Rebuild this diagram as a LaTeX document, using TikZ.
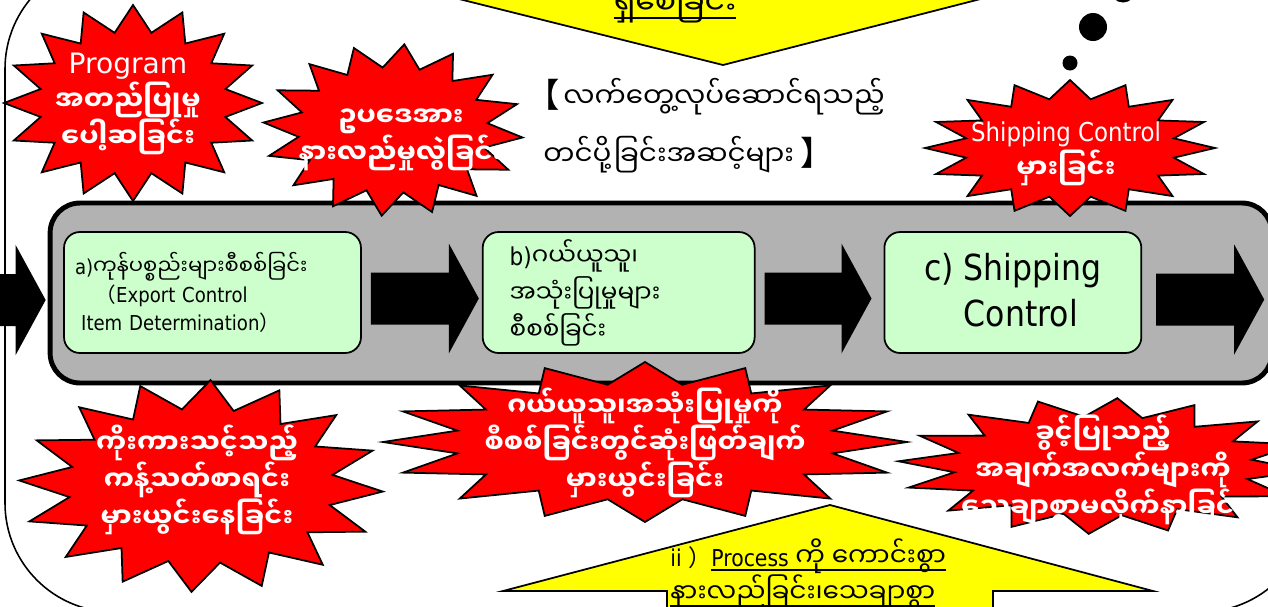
\documentclass[tikz,border=0pt]{standalone}
\usepackage{fontspec}
\setmainfont{DejaVu Sans}[FakeStretch=0.88]
\newfontfamily\verd{DejaVu Sans}
\newfontfamily\mm[Script=Myanmar]{Noto Sans Myanmar UI}
\newfontfamily\cjk{Noto Sans CJK JP}
\usetikzlibrary{positioning}
\usetikzlibrary{calc}

\definecolor{burstred}{RGB}{255,0,0}
\definecolor{boxgreen}{RGB}{204,255,204}
\definecolor{panelgray}{RGB}{178,178,178}
\definecolor{noteyellow}{RGB}{255,255,0}

\newcommand{\mmbold}{\mm\bfseries\fontsize{15.4}{21}\selectfont}
% underline at a fixed depth, whatever the glyphs hang down to
\newcommand{\uline}[1]{\setbox0=\hbox{#1}\rlap{\rule[-2.8pt]{\wd0}{0.9pt}}\box0}
% explosion outline round a coordinate: centre, x radius, y radius, turn
\newcommand{\burst}[4]{%
  \draw[burstline, shift={(#1)}] plot[samples at={0,...,31}, variable=\k]
    ({(1-0.27*mod(\k,2))*#2*cos(\k*11.25+#4)}, {(1-0.27*mod(\k,2))*#3*sin(\k*11.25+#4)}) -- cycle;}
% fat black arrow from one coordinate to a tip
\newcommand{\blockarrow}[2]{%
  \fill ($(#1)+(0,-26)$) -- ($(#2)+(-30,-26)$) -- ($(#2)+(-30,-55)$) -- (#2)
    -- ($(#2)+(-30,55)$) -- ($(#2)+(-30,26)$) -- ($(#1)+(0,26)$) -- cycle;}

\begin{document}
\begin{tikzpicture}[x=0.02cm, y=-0.02cm,
    graybox/.style={draw, line width=2.8pt, fill=panelgray, rounded corners=17pt},
    stepbox/.style={draw, line width=1pt, fill=boxgreen, rounded corners=9pt, minimum height=2.42cm, inner sep=0pt, align=left},
    burstline/.style={draw, line width=1pt, fill=burstred, line join=miter},
    bursttext/.style={text=white, align=center, inner sep=0pt, font=\fontsize{14.8}{21}\selectfont},
    callout/.style={draw, line width=1pt, fill=noteyellow},
    dot/.style={circle, fill=black, inner sep=0pt}]
  \useasboundingbox (0,0) rectangle (1268,606);
  \clip (0,0) rectangle (1268,606);

  % frame
  \draw[line width=0.9pt, rounded corners=62pt] (5,-40) rectangle (1310,612);

  % callouts
  \draw[callout] (439,-6) -- (723,65) -- (1000,-6) -- cycle;
  \node[anchor=base, inner sep=0pt, font=\fontsize{18}{20}\selectfont] (topnote) at (675,14) {\uline{\mm ရှိစေခြင်း}};
  \draw[callout] (667,620) -- (667,591) -- (503,591) -- (830,505) -- (1153,591) -- (993,591) -- (993,620) -- cycle;
  \node[anchor=north west, align=left, inner sep=0pt, font=\fontsize{13.2}{20.5}\selectfont] (bottomnote) at (670,538)
    {ii {\cjk ）}\uline{Process {\mm\fontsize{15}{20.5}\selectfont ကို ကောင်းစွာ}}\\\uline{\mm\fontsize{15}{20.5}\selectfont နားလည်ခြင်း၊သေချာစွာ}};

  % thought dots
  \node[dot, minimum size=0.5cm] (bubble0) at (1123,-10) {};
  \node[dot, minimum size=0.56cm] (bubble1) at (1093,27) {};
  \node[dot, minimum size=0.3cm] (bubble2) at (1070,63) {};

  % steps
  \node[graybox, minimum width=24.44cm, minimum height=3.6cm] (panel) at (661,293) {};
  \node[stepbox, minimum width=5.94cm, text width=5.5cm, font=\fontsize{11.7}{15.9}\selectfont] (boxa) at (212.5,292.5)
    {a){\mm\fontsize{12}{15.9}\selectfont ကုန်ပစ္စည်းများစီစစ်ခြင်း}\\\hspace{1em}{\cjk （}Export Control\\\hspace{0.3em}Item Determination{\cjk ）}};
  \node[stepbox, right=2.4cm of boxa, minimum width=5.44cm, text width=4.36cm, font=\fontsize{14}{21}\selectfont] (boxb)
    {b){\mm ဂယ်ယူသူ၊}\\{\mm အသုံးပြုမှုများ}\\{\mm စီစစ်ခြင်း}};
  \node[stepbox, right=2.56cm of boxb, minimum width=5.14cm, font=\fontsize{20.4}{26}\selectfont] (boxc)
    {c) Shipping\\\phantom{c) }Control};

  \coordinate (in0) at ($(panel.west)+(-55,7)$);
  \coordinate (in1) at ($(panel.west)+(-2,7)$);
  \coordinate (a1) at ($(boxa.east)+(9,6)$);
  \coordinate (b0) at ($(boxb.west)+(-3,6)$);
  \coordinate (b1) at ($(boxb.east)+(9,6)$);
  \coordinate (c0) at ($(boxc.west)+(-12,6)$);
  \coordinate (c1) at ($(boxc.east)+(14,7)$);
  \coordinate (out) at ($(boxc.east)+(122,7)$);
  \blockarrow{in0}{in1}
  \blockarrow{a1}{b0}
  \blockarrow{b1}{c0}
  \blockarrow{c1}{out}

  % mistakes
  \coordinate (s1c) at (133,103);
  \coordinate (s2c) at (393,130);
  \coordinate (s3c) at (1070,148);
  \coordinate (s4c) at (201,486);
  \coordinate (s5c) at (645,442);
  \coordinate (s6c) at (1103,466);
  \burst{s1c}{129}{98}{0}
  \burst{s2c}{130}{86}{5}
  \burst{s3c}{145}{68}{0}
  \burst{s4c}{182}{106}{3}
  \burst{s5c}{262}{80}{0}
  \burst{s6c}{205}{68}{4}
  \node[bursttext] (s1) at (128,104) {{\verd\fontsize{16}{21}\selectfont Program}\\{\mmbold အတည်ပြုမှု}\\{\mmbold ပေါ့ဆခြင်း}};
  \node[bursttext] (s2) at (401,140) {{\mmbold ဥပဒေအား}\\{\mmbold နားလည်မှုလွဲခြင်း}};
  \node[bursttext] (s3) at (1066,154) {Shipping Control\\{\mmbold မှားခြင်း}};
  \node[bursttext] (s4) at (197,480) {{\mmbold ကိုးကားသင့်သည့်}\\{\mmbold ကန့်သတ်စာရင်း}\\{\mmbold မှားယွင်းနေခြင်း}};
  \node[bursttext] (s5) at (645,443) {{\mmbold ဂယ်ယူသူ၊အသုံးပြုမှုကို}\\{\mmbold စီစစ်ခြင်းတွင်ဆုံးဖြတ်ချက်}\\{\mmbold မှားယွင်းခြင်း}};
  \node[bursttext] (s6) at (1103,470) {{\mmbold ခွင့်ပြုသည့်}\\{\mmbold အချက်အလက်များကို}\\{\mmbold သေချာစွာမလိုက်နာခြင်း}};

  % heading
  \node[anchor=west, align=left, inner sep=0pt, font=\fontsize{17}{33}\selectfont] (heading) at (543,126)
    {\hspace*{-9.6pt}{\cjk\fontsize{19}{33}\selectfont 【}\hspace{2pt}{\mm\fontsize{15.8}{33}\selectfont လက်တွေ့လုပ်ဆောင်ရသည့်}\\{\mm\fontsize{15.8}{33}\selectfont တင်ပို့ခြင်းအဆင့်များ}\hspace{4pt}{\cjk\fontsize{19}{33}\selectfont 】}};
\end{tikzpicture}
\end{document}
